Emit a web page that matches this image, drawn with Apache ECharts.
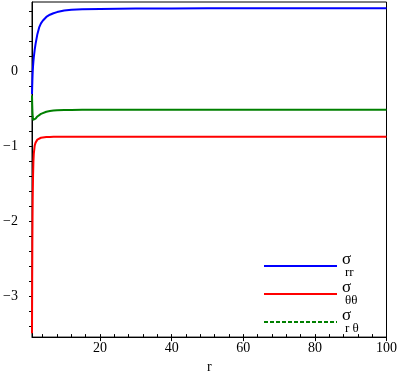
<!DOCTYPE html>
<html><head><meta charset="utf-8">
<script src="https://cdn.jsdelivr.net/npm/echarts@6/dist/echarts.min.js"></script>
<style>html,body{margin:0;padding:0;background:#fff}#c{width:400px;height:379px}</style>
</head><body><div id="c"></div>
<script>
const rValues = [1,1.05,1.1,1.15,1.2,1.3,1.4,1.5,1.75,2,2.5,3,3.5,4,5,6,7,8,10,12,15,20,30,40,50,60,70,80,90,100];
const sigmaRR = [-0.30,-0.21,-0.13,-0.06,0.0,0.08,0.14,0.19,0.29,0.37,0.50,0.59,0.645,0.68,0.73,0.76,0.78,0.795,0.815,0.826,0.834,0.838,0.842,0.844,0.845,0.845,0.845,0.845,0.845,0.845];
const sigmaTT = [-3.50,-2.80,-2.30,-1.95,-1.68,-1.38,-1.20,-1.10,-0.99,-0.95,-0.91,-0.895,-0.885,-0.88,-0.876,-0.874,-0.872,-0.871,-0.87,-0.87,-0.87,-0.87,-0.87,-0.87,-0.87,-0.87,-0.87,-0.87,-0.87,-0.87];
const sigmaRT = [-0.32,-0.42,-0.50,-0.56,-0.60,-0.645,-0.665,-0.67,-0.655,-0.63,-0.60,-0.58,-0.565,-0.553,-0.538,-0.528,-0.522,-0.518,-0.515,-0.513,-0.512,-0.511,-0.51,-0.51,-0.51,-0.51,-0.51,-0.51,-0.51,-0.51];
const xTickLabels = [20,40,60,80,100];
const yTickLabels = [-3,-2,-1,0];

const pairs = ys => rValues.map((r,i)=>[r, ys[i]]);
const xMinor = []; for (let k=1;k<=25;k++) xMinor.push(k*4);
const yMinor = []; for (let k=-17;k<=4;k++) yMinor.push(Math.round(k*2)/10);
const font = 'Liberation Serif';
const chart = echarts.init(document.getElementById('c'), null, {renderer:'canvas'});
const rich = {
  s:{fontFamily:font,fontSize:17,lineHeight:13,color:'#000'},
  b:{fontFamily:font,fontSize:13,lineHeight:13,color:'#000',padding:[0,0,0,3]}
};
const labels = {'srr':'{s|σ}\n{b|rr}','stt':'{s|σ}\n{b|θθ}','srt':'{s|σ}\n{b|r θ}'};
chart.setOption({
  animation:false,
  grid:{left:32,right:13,top:2,bottom:36,show:true,borderColor:'#000',borderWidth:1},
  legend:{
    orient:'vertical',left:263,top:251,padding:0,itemGap:0,itemWidth:73,itemHeight:14,
    itemStyle:{opacity:0},
    data:[
      {name:'srr'},
      {name:'stt'},
      {name:'srt',lineStyle:{type:[4,2]}}
    ],
    formatter:n=>labels[n],
    textStyle:{rich:rich}
  },
  xAxis:[{
    type:'value',min:1,max:100,name:'r',nameLocation:'middle',nameGap:21,
    nameTextStyle:{fontFamily:font,fontSize:14,color:'#000'},
    axisLine:{onZero:false,lineStyle:{color:'#000',width:1}},
    axisTick:{customValues:xTickLabels,length:4,lineStyle:{color:'#000'}},
    axisLabel:{customValues:xTickLabels,fontFamily:font,fontSize:14,color:'#000',margin:4},
    splitLine:{show:false}
  },{
    type:'value',min:1,max:100,position:'bottom',
    axisLine:{show:false,onZero:false},
    axisTick:{customValues:xMinor,inside:true,length:3,lineStyle:{color:'#000'}},
    axisLabel:{show:false},splitLine:{show:false}
  }],
  yAxis:{
    type:'value',min:-3.55,max:0.93,
    axisLine:{show:true,onZero:false,lineStyle:{color:'#000',width:1}},
    axisTick:{show:true,customValues:yMinor,length:3,lineStyle:{color:'#000'}},
    axisLabel:{customValues:yTickLabels,fontFamily:font,fontSize:14,color:'#000',margin:14,
      formatter:v=>v<0?'\u2212'+Math.abs(v):String(v)},
    splitLine:{show:false}
  },
  series:[
    {name:'srr',type:'line',data:pairs(sigmaRR),symbol:'none',lineStyle:{color:'#0000ff',width:2},itemStyle:{color:'#0000ff'}},
    {name:'stt',type:'line',data:pairs(sigmaTT),symbol:'none',lineStyle:{color:'#ff0000',width:2},itemStyle:{color:'#ff0000'}},
    {name:'srt',type:'line',data:pairs(sigmaRT),symbol:'none',lineStyle:{color:'#008000',width:2},itemStyle:{color:'#008000'}}
  ]
});
</script></body></html>
